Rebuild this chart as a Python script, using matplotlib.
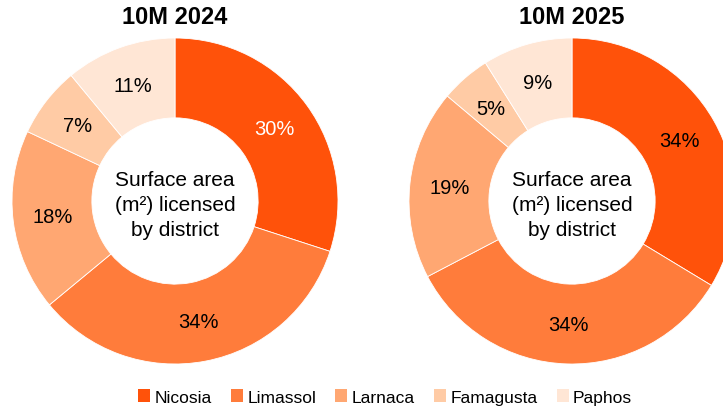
import matplotlib
matplotlib.use("Agg")
import matplotlib.pyplot as plt
from matplotlib.patches import Patch
from matplotlib import font_manager

districts = ["Nicosia", "Limassol", "Larnaca", "Famagusta", "Paphos"]
share_2024 = [30, 34, 18, 7, 11]
share_2025 = [34, 34, 19, 5, 9]
titles = ["10M 2024", "10M 2025"]
colors = ["#FF520A", "#FF7C3B", "#FFA772", "#FFCBA5", "#FFE6D5"]

names = {f.name for f in font_manager.fontManager.ttflist}
title_font = "Liberation Sans Narrow" if "Liberation Sans Narrow" in names else "Liberation Sans"
plt.rcParams["font.family"] = ["Liberation Sans", "DejaVu Sans"]

W, H = 723, 410
fig = plt.figure(figsize=(W / 100, H / 100), dpi=100)

R = 163
centers = [(175, 202), (572, 202)]
label_colors = [["white", "black", "black", "black", "black"],
                ["black", "black", "black", "black", "black"]]

for (cx, cy), vals, title, lcols in zip(centers, [share_2024, share_2025], titles, label_colors):
    ax = fig.add_axes([(cx - R) / W, (H - cy - R) / H, 2 * R / W, 2 * R / H])
    wedges, texts, autotexts = ax.pie(
        vals, colors=colors, startangle=90, counterclock=False,
        radius=1.0, autopct=lambda p: f"{p:.0f}%", pctdistance=0.755,
        wedgeprops=dict(width=0.49, edgecolor="white", linewidth=0.6),
        textprops=dict(fontsize=14.5),
    )
    for t, c, v in zip(autotexts, lcols, vals):
        t.set_text(f"{v}%")
        t.set_color(c)
    ax.text(0, -0.02, "Surface area\n(m\u00b2) licensed\nby district", ha="center", va="center",
            fontsize=15, linespacing=1.4)
    ax.set_xlim(-1, 1)
    ax.set_ylim(-1, 1)
    ax.set_aspect("equal")
    ax.axis("off")
    fig.text(cx / W, 1 - 17 / H, title, ha="center", va="center",
             fontsize=17, fontweight="bold", family=title_font)

handles = [Patch(facecolor=c, edgecolor="none") for c in colors]
fig.legend(handles, districts, loc="center", bbox_to_anchor=(385 / W, 1 - 398 / H),
           ncol=5, frameon=False, fontsize=12.5, handlelength=0.7, handleheight=0.7,
           handletextpad=0.25, columnspacing=1.1)

fig.savefig("out.png", dpi=100)
